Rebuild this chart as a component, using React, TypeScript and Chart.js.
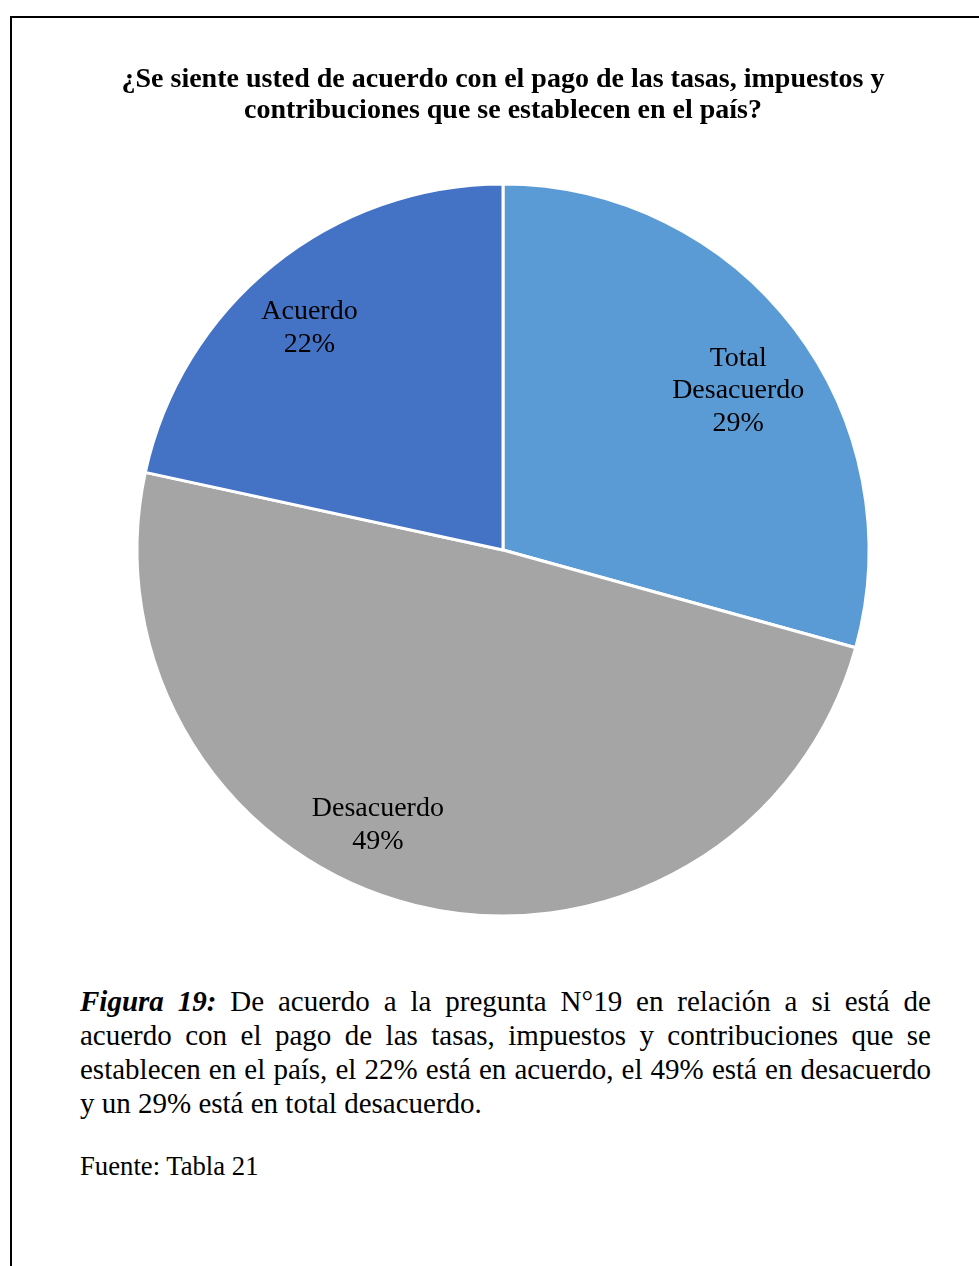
import React, { useEffect, useRef } from "react";
import { Chart, registerables } from "chart.js";

Chart.register(...registerables);

const titleLines = [
  "¿Se siente usted de acuerdo con el pago de las tasas, impuestos y",
  "contribuciones que se establecen en el país?",
];
const categories = [["Total", "Desacuerdo"], ["Desacuerdo"], ["Acuerdo"]];
const percentages = [29.3, 49.1, 21.6];
const sliceColors = ["#5B9BD5", "#A5A5A5", "#4472C4"];
// label placement along each slice (fraction of the slice angle, fraction of the radius)
const labelAngleFrac = [0.526, 0.561, 0.476];
const labelRadiusFrac = [0.78, 0.82, 0.81];

const captionLines = [
  "De acuerdo a la pregunta N°19 en relación a si está de",
  "acuerdo con el pago de las tasas, impuestos y contribuciones que se",
  "establecen en el país, el 22% está en acuerdo, el 49% está en desacuerdo",
  "y un 29% está en total desacuerdo.",
];
const captionLead = "Figura 19:";
const sourceText = "Fuente: Tabla 21";

const SERIF = "'Liberation Serif', 'Times New Roman', serif";

const labelPlugin = {
  id: "sliceLabels",
  afterDatasetsDraw(chart: any) {
    const ctx = chart.ctx;
    const meta = chart.getDatasetMeta(0);
    ctx.save();
    ctx.font = `28px ${SERIF}`;
    ctx.fillStyle = "#000";
    ctx.textAlign = "center";
    ctx.textBaseline = "middle";
    meta.data.forEach((arc: any, i: number) => {
      const { x, y, startAngle, endAngle, outerRadius } = arc.getProps(
        ["x", "y", "startAngle", "endAngle", "outerRadius"],
        true
      );
      const a = startAngle + (endAngle - startAngle) * labelAngleFrac[i];
      const r = outerRadius * labelRadiusFrac[i];
      const cx = x + Math.cos(a) * r;
      const cy = y + Math.sin(a) * r + 2.5;
      const lines = [...categories[i], `${Math.round(percentages[i])}%`];
      const lh = 32.5;
      const top = cy - ((lines.length - 1) * lh) / 2;
      lines.forEach((t, k) => ctx.fillText(t, cx, top + k * lh));
    });
    ctx.restore();
  },
};

export default function App() {
  const ref = useRef<HTMLCanvasElement>(null);
  useEffect(() => {
    if (!ref.current) return;
    const chart = new Chart(ref.current, {
      type: "pie",
      data: {
        labels: categories.map((c) => c.join(" ")),
        datasets: [
          {
            data: percentages,
            backgroundColor: sliceColors,
            borderColor: "#FFFFFF",
            borderWidth: 3,
          },
        ],
      },
      options: {
        responsive: false,
        animation: false,
        devicePixelRatio: 1,
        radius: 366,
        layout: { padding: { top: 0, left: 27, right: 0, bottom: 44 } },
        plugins: {
          legend: { display: false },
          tooltip: { enabled: false },
          title: {
            display: true,
            text: titleLines,
            color: "#000",
            font: { family: SERIF, size: 28, weight: "bold", lineHeight: 31 / 28 },
            padding: { top: 64, bottom: 58 },
          },
        },
      } as any,
      plugins: [labelPlugin],
    });
    return () => chart.destroy();
  }, []);

  return (
    <div style={{ position: "fixed", inset: 0, overflow: "hidden", background: "#fff" }}>
      <div
        style={{
          position: "absolute",
          left: 10,
          top: 16,
          width: 1200,
          height: 1400,
          borderTop: "2px solid #000",
          borderLeft: "2px solid #000",
        }}
      />
      <canvas
        ref={ref}
        width={979}
        height={960}
        style={{ position: "absolute", left: 0, top: 0, width: 979, height: 960 }}
      />
      <div
        style={{
          position: "absolute",
          left: 80,
          top: 984,
          width: 851,
          fontFamily: SERIF,
          fontSize: 29,
          lineHeight: "34px",
          color: "#000",
        }}
      >
        {captionLines.map((line, i) => (
          <div
            key={i}
            style={{
              textAlign: "justify",
              textAlignLast: i < captionLines.length - 1 ? "justify" : "left",
              whiteSpace: "normal",
            }}
          >
            {i === 0 ? (
              <>
                <b>
                  <i>{captionLead}</i>
                </b>{" "}
                {line}
              </>
            ) : (
              line
            )}
          </div>
        ))}
      </div>
      <div
        style={{
          position: "absolute",
          left: 80,
          top: 1151,
          fontFamily: SERIF,
          fontSize: 26.7,
          lineHeight: "30px",
          color: "#000",
        }}
      >
        {sourceText}
      </div>
    </div>
  );
}
